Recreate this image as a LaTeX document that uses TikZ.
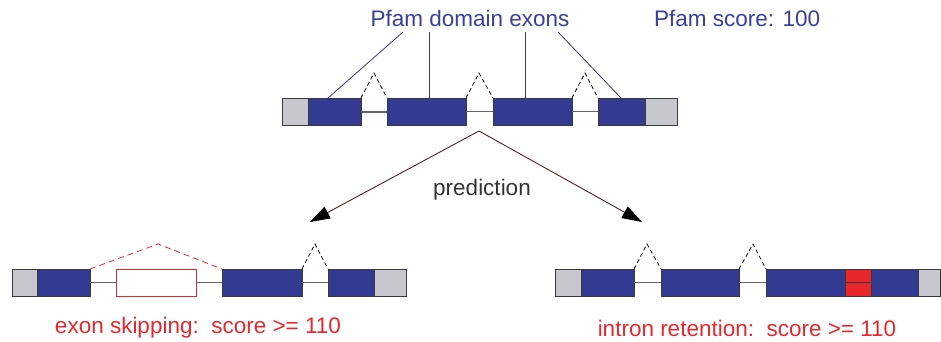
\documentclass[tikz,border=0pt]{standalone}
\usepackage{fontspec}
\setmainfont{Liberation Sans}
\usetikzlibrary{arrows.meta,calc}
\definecolor{exblue}{HTML}{323A92}
\definecolor{utrgray}{HTML}{C6C8CE}
\definecolor{txtblue}{HTML}{3A3F99}
\definecolor{txtred}{HTML}{E8262C}
\definecolor{arrbrown}{HTML}{5A1E1E}
\definecolor{edge}{HTML}{3A3A3A}
\newcommand\mybox[5]{%
  \pgfmathsetmacro\bw{#3-#2}\pgfmathsetmacro\bc{(#2+#3)/2}%
  \node[#5, minimum width=\bw pt] (#1) at (\bc,#4) {};}
\begin{document}
\begin{tikzpicture}[x=1pt,y=-1pt,
  box/.style={draw=edge, line width=0.9pt, inner sep=0pt, outer sep=0pt, minimum height=27pt},
  cds/.style={box, fill=exblue},
  utr/.style={box, fill=utrgray},
  skipped/.style={box, draw=txtred, fill=white},
  retained/.style={box, fill=txtred},
  intron/.style={draw=gray!80!black, line width=1.2pt},
  splice/.style={draw=black, dash pattern=on 4pt off 3pt, line width=0.8pt},
  splicered/.style={draw=txtred, dash pattern=on 6pt off 4pt, line width=0.8pt},
  lbl/.style={font=\fontsize{22.5}{26}\selectfont, inner sep=0pt},
  pointer/.style={draw=exblue, line width=0.8pt},
  pred/.style={draw=arrbrown, line width=0.9pt, -{Triangle[length=20pt,width=13pt,color=black]}}]
\useasboundingbox (0,0) rectangle (941,342);

% ---------- top gene ----------
\coordinate (tA) at (361,112);
\draw[intron] (361,112) -- (387,112);
\mybox{tg1}{282}{308}{111.5}{utr}
\mybox{tb1}{308}{361}{111.5}{cds}
\mybox{tb2}{387}{466}{111.5}{cds}
\mybox{tb3}{493}{572}{111.5}{cds}
\mybox{tb4}{598}{645}{111.5}{cds}
\mybox{tg4}{645}{677}{111.5}{utr}
\begin{scope}[on background layer/.try]
\end{scope}
\draw[intron] (tb1.east) -- (tb2.west);
\draw[intron] (tb2.east) -- (tb3.west);
\draw[intron] (tb3.east) -- (tb4.west);
\coordinate (tp1) at (374,73);
\coordinate (tp2) at (479,73);
\coordinate (tp3) at (585,73);
\draw[splice] (tb1.north east) -- (tp1) -- (tb2.north west);
\draw[splice] (tb2.north east) -- (tp2) -- (tb3.north west);
\draw[splice] (tb3.north east) -- (tp3) -- (tb4.north west);

\node[lbl, text=txtblue] (pfam) at (470,18) {Pfam domain exons};
\node[lbl, text=txtblue, anchor=west] (score) at (654,18) {Pfam score: 100};
\coordinate (l1) at (403,32);
\coordinate (l2) at (429,32);
\coordinate (l3) at (525,32);
\coordinate (l4) at (558,32);
\draw[pointer] (l1) -- ([xshift=-6.5pt]tb1.north);
\draw[pointer] (l2) -- ([xshift=2.5pt]tb2.north);
\draw[pointer] (l3) -- ([xshift=-7.5pt]tb3.north);
\draw[pointer] (l4) -- ([xshift=-0.5pt]tb4.north);

% ---------- prediction arrows ----------
\coordinate (src) at (479,131);
\coordinate (dl) at (310,222);
\coordinate (dr) at (642,222);
\draw[pred] (src) -- (dl);
\draw[pred] (src) -- (dr);
\node[lbl, text=black!80] (predtxt) at (482,190) {prediction};

% ---------- exon skipping ----------
\mybox{lg1}{12}{37}{282.5}{utr}
\mybox{lb1}{37}{90}{282.5}{cds}
\mybox{ls}{116}{196}{282.5}{skipped}
\mybox{lb2}{222}{302}{282.5}{cds}
\mybox{lb3}{328}{374}{282.5}{cds}
\mybox{lg3}{374}{406}{282.5}{utr}
\draw[intron] (lb1.east) -- (ls.west);
\draw[intron] (ls.east) -- (lb2.west);
\draw[intron] (lb2.east) -- (lb3.west);
\coordinate (lp1) at (158,244);
\coordinate (lp2) at (315,244);
\draw[splicered] (lb1.north east) -- (lp1) -- (lb2.north west);
\draw[splice] (lb2.north east) -- (lp2) -- (lb3.north west);
\node[lbl, text=txtred] (skiptxt) at (198,328) {exon skipping:\ \ score >= 110};

% ---------- intron retention ----------
\mybox{rg1}{555}{581}{282.5}{utr}
\mybox{rb1}{581}{634}{282.5}{cds}
\mybox{rb2}{661}{739}{282.5}{cds}
\mybox{rb3}{766}{845}{282.5}{cds}
\mybox{rr}{845}{871}{282.5}{retained}
\mybox{rb4}{871}{918}{282.5}{cds}
\mybox{rg4}{918}{940}{282.5}{utr}
\draw[intron] (rb1.east) -- (rb2.west);
\draw[intron] (rb2.east) -- (rb3.west);
\draw[draw=edge, line width=0.9pt] (rr.west) -- (rr.east);
\coordinate (rp1) at (647,244);
\coordinate (rp2) at (753,244);
\draw[splice] (rb1.north east) -- (rp1) -- (rb2.north west);
\draw[splice] (rb2.north east) -- (rp2) -- (rb3.north west);
\node[lbl, text=txtred] (rettxt) at (747,328) {intron retention:\ \ score >= 110};
\end{tikzpicture}
\end{document}
